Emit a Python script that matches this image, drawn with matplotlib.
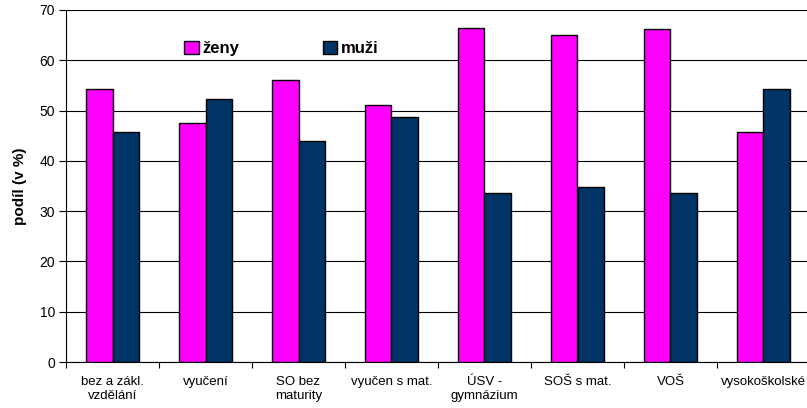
import matplotlib.pyplot as plt
import numpy as np

plt.rcParams['font.family'] = ['Liberation Sans', 'DejaVu Sans']

categories = ["bez a zákl.\nvzdělání", "vyučení", "SO bez\nmaturity", "vyučen s mat.",
              "ÚSV -\ngymnázium", "SOŠ s mat.", "VOŠ", "vysokoškolské"]
zeny = [54.2, 47.6, 56.0, 51.2, 66.4, 65.1, 66.2, 45.7]
muzi = [45.8, 52.3, 43.9, 48.7, 33.6, 34.9, 33.7, 54.3]

fig = plt.figure(figsize=(8.07, 4.08), dpi=100)
ax = fig.add_axes([66 / 807, 46 / 408, 744 / 807, 352 / 408])

x = np.arange(len(categories))
w = 0.285
ax.bar(x - w / 2, zeny, w, color="#FF00FF", edgecolor="black", linewidth=1, label="ženy", zorder=3)
ax.bar(x + w / 2, muzi, w, color="#003366", edgecolor="black", linewidth=1, label="muži", zorder=3)

ax.set_xlim(-0.5, len(categories) - 0.5)
ax.set_ylim(0, 70)
ax.set_yticks(range(0, 71, 10))
ax.yaxis.grid(True, color="black", linewidth=0.8, zorder=0)
ax.set_axisbelow(True)

ax.set_xticks(x)
ax.set_xticklabels(categories, fontsize=9.5)
ax.set_xticks(np.arange(-0.5, len(categories), 1), minor=True)
ax.tick_params(axis="x", which="major", length=0, pad=10)
ax.tick_params(axis="x", which="minor", length=4, width=0.8)
ax.tick_params(axis="y", labelsize=10, length=5, width=0.8, pad=3)

for s in ["top", "right"]:
    ax.spines[s].set_visible(False)
ax.spines["left"].set_linewidth(0.8)
ax.spines["bottom"].set_linewidth(0.8)

ax.set_ylabel("podíl (v %)", fontsize=11, fontweight="bold", labelpad=9)

ax.legend(loc="upper left", bbox_to_anchor=(0.139, 0.955), ncol=2, frameon=False,
          prop={"weight": "bold", "size": 12}, handlelength=0.85, handleheight=0.85,
          handletextpad=0.25, columnspacing=5.0)

fig.savefig("out.png", dpi=100)
